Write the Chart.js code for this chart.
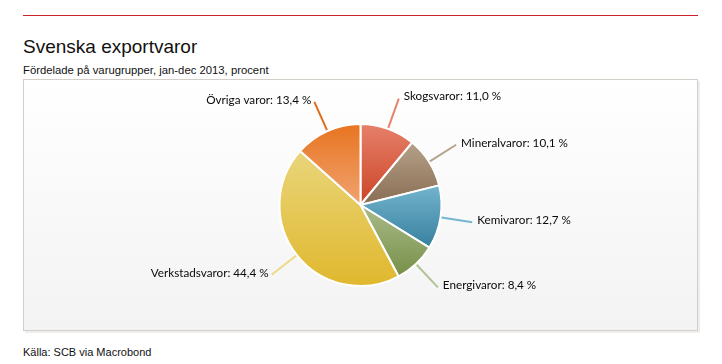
<!DOCTYPE html>
<html>
<head>
<meta charset="utf-8">
<script src="https://cdn.jsdelivr.net/npm/chart.js@4.4.1/dist/chart.umd.min.js"></script>
<style>
    body { margin: 0; background: #fff; width: 722px; height: 364px; overflow: hidden; color: #111; }
    .rule { position: absolute; left: 23px; top: 15px; width: 675px; height: 1px; background: #cc2229; }
    .title { position: absolute; left: 23px; top: 36px; font: 19px "Liberation Sans"; white-space: nowrap; }
    .subtitle { position: absolute; left: 23px; top: 64px; font: 11.3px "Liberation Sans"; white-space: nowrap; }
    .frame {
        position: absolute; left: 23px; top: 79px; width: 673px; height: 250px;
        border: 1px solid #d3cfc8;
        box-shadow: 2px 2px 0 #efeeec;
        background: linear-gradient(#ffffff, #f3f3f3);
    }
    .frame canvas { position: absolute; left: 0; top: 0; }
    .source { position: absolute; left: 23px; top: 346px; font: 11px "Liberation Sans"; white-space: nowrap; }
</style>
</head>
<body>
<div class="rule"></div>
<div class="title">Svenska exportvaror</div>
<div class="subtitle">Fördelade på varugrupper, jan-dec 2013, procent</div>
<div class="frame"><canvas id="pie" width="673" height="250"></canvas></div>
<div class="source">Källa: SCB via Macrobond</div>

<script>
// Data (share of exports, percent)
const categories = ['Skogsvaror', 'Mineralvaror', 'Kemivaror', 'Energivaror', 'Verkstadsvaror', 'Övriga varor'];
const shares = [11.0, 10.1, 12.7, 8.4, 44.4, 13.4];

// Slice colours: gradient top -> bottom, plus leader line colour
const topColors = ['#e6816b', '#b6a189', '#73b4cd', '#aabb8a', '#e9d57a', '#e8731f'];
const bottomColors = ['#cb4426', '#886d52', '#37809f', '#768f47', '#e0b82d', '#f0a472'];
const lineColors = ['#e8826c', '#b5a38c', '#74b6cf', '#b3c296', '#ecd98a', '#e06c1c'];

// Vertical gradient spanning each slice's own height
const sliceGradient = (context) => {
    const chart = context.chart;
    const area = chart.chartArea;
    const i = context.dataIndex;
    if (!area) return topColors[i];

    const cx = (area.left + area.right) / 2;
    const cy = (area.top + area.bottom) / 2;
    const r = Math.min(area.right - area.left, area.bottom - area.top) / 2;
    const total = shares.reduce((a, b) => a + b, 0);
    let before = 0;
    for (let k = 0; k < i; k++) before += shares[k];
    const a0 = before / total * 2 * Math.PI;
    const a1 = (before + shares[i]) / total * 2 * Math.PI;

    let minY = cy, maxY = cy;
    for (let s = 0; s <= 60; s++) {
        const y = cy - r * Math.cos(a0 + (a1 - a0) * s / 60);
        minY = Math.min(minY, y);
        maxY = Math.max(maxY, y);
    }
    const g = chart.ctx.createLinearGradient(0, minY, 0, maxY);
    g.addColorStop(0, topColors[i]);
    g.addColorStop(1, bottomColors[i]);
    return g;
};

// Labels outside the pie with short leader lines
const outerLabels = {
    id: 'outerLabels',
    afterDatasetsDraw(chart) {
        const ctx = chart.ctx;
        const meta = chart.getDatasetMeta(0);
        ctx.save();
        ctx.font = '11.7px Lato';
        ctx.fillStyle = '#0a0a0a';
        ctx.textBaseline = 'middle';
        meta.data.forEach((arc, i) => {
            const p = arc.getProps(['x', 'y', 'startAngle', 'endAngle', 'outerRadius'], true);
            const mid = (p.startAngle + p.endAngle) / 2;
            const cos = Math.cos(mid), sin = Math.sin(mid);
            const x1 = p.x + cos * (p.outerRadius + 1);
            const y1 = p.y + sin * (p.outerRadius + 1);
            const x2 = p.x + cos * (p.outerRadius + 32);
            const y2 = p.y + sin * (p.outerRadius + 32);

            ctx.strokeStyle = lineColors[i];
            ctx.lineWidth = 2;
            ctx.beginPath();
            ctx.moveTo(x1, y1);
            ctx.lineTo(x2, y2);
            ctx.stroke();

            const right = cos >= 0;
            ctx.textAlign = right ? 'left' : 'right';
            const text = categories[i] + ': ' + shares[i].toFixed(1).replace('.', ',') + ' %';
            ctx.fillText(text, x2 + (right ? 5 : -3), y2 - 2);
        });
        ctx.restore();
    }
};

new Chart(document.getElementById('pie'), {
    type: 'pie',
    data: {
        labels: categories,
        datasets: [{
            data: shares,
            backgroundColor: sliceGradient,
            borderColor: '#ffffff',
            borderWidth: 2
        }]
    },
    options: {
        responsive: false,
        animation: false,
        layout: { padding: { top: 43, bottom: 43 } },
        plugins: {
            legend: { display: false },
            tooltip: { enabled: false }
        }
    },
    plugins: [outerLabels]
});
</script>
</body>
</html>
